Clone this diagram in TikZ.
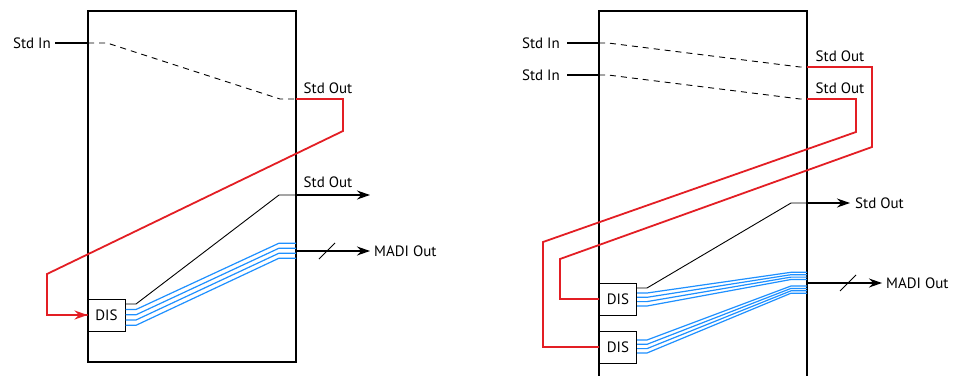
\documentclass[tikz,border=0pt]{standalone}
\usepackage{fontspec}
\setmainfont{PT Sans}
\usetikzlibrary{arrows.meta}
\definecolor{sigred}{HTML}{E31E24}
\definecolor{sigblue}{HTML}{1E90FF}
\begin{document}
\begin{tikzpicture}[x=1pt,y=-1pt,
  frame/.style={draw=black,line width=1.1pt},
  disbox/.style={draw=black,line width=1pt,minimum width=37pt,minimum height=32pt,inner sep=0pt,font=\fontsize{15}{17}\selectfont},
  lbl/.style={font=\fontsize{15}{17}\selectfont,inner sep=1pt},
  inline/.style={draw=black,line width=1.1pt},
  dashline/.style={draw=black,line width=0.9pt,dash pattern=on 6pt off 5pt},
  redline/.style={draw=sigred,line width=1.8pt},
  blueline/.style={draw=sigblue,line width=1.2pt},
  blackline/.style={draw=black,line width=0.9pt},
  outarrow/.style={draw=black,line width=1.1pt,-{Stealth[length=13pt,width=9pt]}},
  slash/.style={draw=black,line width=0.9pt}]
\useasboundingbox (0,0) rectangle (958,375);
\fill[white] (0,0) rectangle (958,375);

% ===== Left diagram =====
\draw[frame] (88,11) rectangle (296,362);
\node[disbox] (disA) at (106.5,315) {DIS};
\node[lbl,anchor=east] (inA) at (52,43) {Std In};
\coordinate (inAe) at (55,43);
\coordinate (inAb) at (88,43);
\draw[inline] (inAe) -- (inAb);
\draw[dashline] (inAb) -- (107,43) -- (280,99) -- (296,99);
\node[lbl] (soA) at (328,88) {Std Out};
\draw[redline] (296,99) -- (343,99) -- (343,131) -- (47,274) -- (47,315) -- (disA.west);
\draw[sigred,line width=1.8pt,-{Stealth[length=13pt,width=9pt]}] (60,315) -- (disA.west);
% black std out
\coordinate (soAe) at (296,195);
\draw[blackline] (disA.east |- 0,304) -- (136,304) -- (279,195) -- (soAe);
\coordinate (soAt) at (370,195);
\draw[outarrow] (soAe) -- (soAt);
\node[lbl] (soAl) at (328,182) {Std Out};
% blue
\foreach \ya/\yb in {309.5/243.2, 314.8/248.2, 320/253.2, 325.3/258.2}{
  \draw[blueline] (disA.east |- 0,\ya) -- (136,\ya) -- (279,\yb) -- (296,\yb);
}
\coordinate (maA) at (296,251);
\coordinate (maAt) at (370,251);
\draw[outarrow] (maA) -- (maAt);
\draw[slash] (319,259) -- (335,243);
\node[lbl,anchor=west] (maAl) at (373,251) {MADI Out};

% ===== Right diagram =====
\draw[frame] (599,385) -- (599,11) -- (807,11) -- (807,385);
\node[disbox] (disB) at (618,299) {DIS};
\node[disbox] (disC) at (618,347) {DIS};
\node[lbl,anchor=east] (inB) at (561,43) {Std In};
\node[lbl,anchor=east] (inC) at (561,75) {Std In};
\coordinate (inBb) at (599,43);
\coordinate (inCb) at (599,75);
\draw[inline] (567,43) -- (inBb);
\draw[inline] (567,75) -- (inCb);
\draw[dashline] (inBb) -- (608,43) -- (800,67) -- (807,67);
\draw[dashline] (inCb) -- (608,75) -- (800,99) -- (807,99);
\node[lbl] (soB) at (840,56) {Std Out};
\node[lbl] (soC) at (840,88) {Std Out};
\draw[redline] (807,67) -- (872,67) -- (872,147) -- (560,259) -- (560,299) -- (disB.west);
\draw[redline] (807,99) -- (856,99) -- (856,132) -- (543,242) -- (543,347) -- (disC.west);
% black std out
\coordinate (soBe) at (807,203);
\draw[blackline] (disB.east |- 0,288) -- (647,288) -- (791,203) -- (soBe);
\coordinate (soBt) at (850,203);
\draw[outarrow] (soBe) -- (soBt);
\node[lbl,anchor=west] (soBl) at (854,203) {Std Out};
% blue
\foreach \ya/\yb in {293/272.3, 297.3/274.7, 301.6/277.1, 306/279.5}{
  \draw[blueline] (disB.east |- 0,\ya) -- (647,\ya) -- (791,\yb) -- (807,\yb);
}
\foreach \ya/\yb in {340/286, 344.3/288.4, 348.6/290.8, 353/293.2}{
  \draw[blueline] (disC.east |- 0,\ya) -- (647,\ya) -- (791,\yb) -- (807,\yb);
}
\coordinate (maB) at (807,283);
\coordinate (maBt) at (882,283);
\draw[outarrow] (maB) -- (maBt);
\draw[slash] (840,291) -- (856,275);
\node[lbl,anchor=west] (maBl) at (885,283) {MADI Out};
\end{tikzpicture}
\end{document}
